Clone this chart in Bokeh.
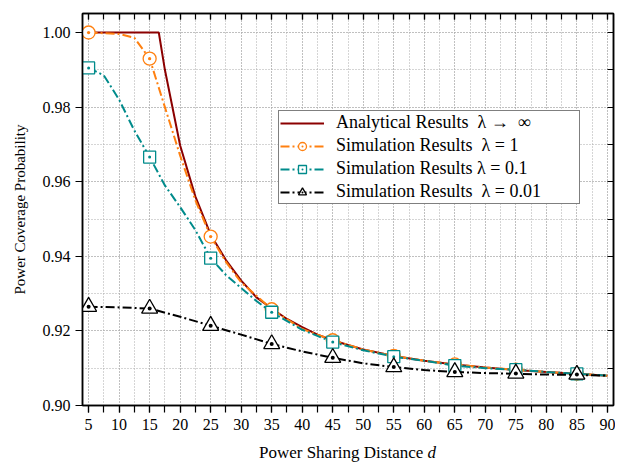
from bokeh.plotting import figure
from bokeh.layouts import column
from bokeh.models import FixedTicker, LinearAxis, Range1d, PrintfTickFormatter, Legend, LegendItem, Div
from bokeh.embed import file_html
from bokeh.resources import INLINE

FONT = "Liberation Serif"

# Analytical results (lambda -> infinity)
ana_x = [5, 16.5, 17.5, 20, 22.5, 25, 27.5, 30, 32.5, 35, 37.5, 40, 42.5, 45, 47.5, 50, 55, 60, 65, 70, 75, 80, 85, 90]
ana_y = [1.0, 1.0, 0.990, 0.9697, 0.956, 0.9458, 0.939, 0.9335, 0.929, 0.926, 0.9232, 0.921, 0.919, 0.9175,
         0.9162, 0.915, 0.9133, 0.912, 0.911, 0.9102, 0.9095, 0.909, 0.9085, 0.908]

# Simulation lambda = 1
s1_x = [5, 10, 12.5, 15, 17.5, 20, 22.5, 25, 27.5, 30, 35, 40, 45, 50, 55, 60, 65, 70, 75, 80, 85, 90]
s1_y = [1.0, 0.9996, 0.9986, 0.993, 0.980, 0.967, 0.955, 0.9453, 0.9385, 0.933, 0.9258, 0.9205, 0.9175,
        0.915, 0.9133, 0.912, 0.911, 0.9102, 0.9096, 0.909, 0.9085, 0.908]
s1_mx = [5, 15, 25, 35, 45, 55, 65, 75, 85]
s1_my = [1.0, 0.993, 0.9453, 0.9258, 0.9175, 0.9133, 0.911, 0.9096, 0.9085]

# Simulation lambda = 0.1
s2_x = [5, 7.5, 10, 12.5, 15, 17.5, 20, 22.5, 25, 27.5, 30, 32.5, 35, 40, 45, 50, 55, 60, 65, 70, 75, 80, 85, 90]
s2_y = [0.9905, 0.9885, 0.982, 0.9737, 0.9666, 0.959, 0.9532, 0.947, 0.9395, 0.935, 0.9315, 0.928, 0.925,
        0.9203, 0.917, 0.9148, 0.9131, 0.912, 0.9107, 0.910, 0.9096, 0.909, 0.9085, 0.908]
s2_mx = [5, 15, 25, 35, 45, 55, 65, 75, 85]
s2_my = [0.9905, 0.9666, 0.9395, 0.925, 0.917, 0.9131, 0.9107, 0.9096, 0.9085]

# Simulation lambda = 0.01
s3_x = [5, 10, 15, 20, 25, 30, 35, 40, 45, 50, 55, 60, 65, 70, 75, 80, 85, 90]
s3_y = [0.9265, 0.9263, 0.926, 0.9238, 0.9214, 0.919, 0.9165, 0.9145, 0.9128, 0.9113, 0.9103, 0.9095,
        0.909, 0.9087, 0.9085, 0.9083, 0.9082, 0.908]
s3_mx = [5, 15, 25, 35, 45, 55, 65, 75, 85]
s3_my = [0.9265, 0.926, 0.9214, 0.9165, 0.9128, 0.9103, 0.909, 0.9086, 0.9083]

x_major = list(range(5, 91, 5))
x_minor = [2.5 * i for i in range(2, 37)]
y_major = [0.90, 0.92, 0.94, 0.96, 0.98, 1.00]
y_minor = [0.90, 0.91, 0.92, 0.93, 0.94, 0.95, 0.96, 0.97, 0.98, 0.99, 1.00]

p = figure(width=615, height=440, x_range=Range1d(4, 91), y_range=Range1d(0.9, 1.0051),
           output_backend="svg", toolbar_location=None,
           min_border_left=82, min_border_right=2, min_border_top=13, min_border_bottom=35)
p.background_fill_color = "white"
p.border_fill_color = "white"
p.outline_line_color = "black"
p.outline_line_width = 1.5

xt = FixedTicker(ticks=x_major, minor_ticks=x_minor)
yt = FixedTicker(ticks=y_major, minor_ticks=y_minor)

p.xaxis.ticker = xt
p.yaxis.ticker = yt
p.yaxis.formatter = PrintfTickFormatter(format="%.2f")
for ax in (p.xaxis[0], p.yaxis[0]):
    ax.axis_line_color = "black"
    ax.axis_line_width = 1.5
    ax.major_tick_line_color = "black"
    ax.minor_tick_line_color = "black"
    ax.major_tick_line_width = 1.2
    ax.minor_tick_line_width = 1.2
    ax.major_tick_in = 0
    ax.minor_tick_in = 0
    ax.major_tick_out = 7
    ax.minor_tick_out = 7
    ax.major_label_text_font = FONT
    ax.major_label_text_font_size = "16px"
    ax.major_label_text_color = "black"
    ax.axis_label_text_font = FONT
    ax.axis_label_text_font_size = "15px"
    ax.axis_label_text_font_style = "normal"
    ax.axis_label_text_color = "black"
p.yaxis.minor_tick_out = 0
p.yaxis.axis_label = "Power Coverage Probability"
p.yaxis.axis_label_standoff = 12
p.yaxis.major_label_standoff = 5
p.xaxis.major_label_standoff = 6

top = LinearAxis(ticker=xt, major_label_overrides={t: "" for t in x_major},
                 major_label_text_font_size="1px", major_label_standoff=0,
                 major_tick_in=6, major_tick_out=0, minor_tick_in=6, minor_tick_out=0,
                 major_tick_line_width=1.2, minor_tick_line_width=1.2,
                 axis_line_color="black", axis_line_width=1.5)
right = LinearAxis(ticker=FixedTicker(ticks=y_minor), major_label_overrides={t: "" for t in y_minor},
                   major_label_text_font_size="1px", major_label_standoff=0,
                   major_tick_in=6, major_tick_out=0, minor_tick_in=0, minor_tick_out=0,
                   major_tick_line_width=1.2,
                   axis_line_color="black", axis_line_width=1.5)
p.add_layout(top, "above")
p.add_layout(right, "right")

p.xgrid.ticker = xt
p.ygrid.ticker = yt
for g in (p.xgrid[0], p.ygrid[0]):
    g.grid_line_color = "#aaaaaa"
    g.grid_line_dash = "1 2"
    g.grid_line_width = 1
    g.minor_grid_line_color = "#aaaaaa"
    g.minor_grid_line_dash = "1 2"
    g.minor_grid_line_width = 1

RED = "#8B0000"
ORANGE = "#FF8010"
TEAL = "#008B8B"
BLACK = "#000000"
DD = "9 3 2 3"

r0 = p.line(ana_x, ana_y, line_color=RED, line_width=2)
l1 = p.line(s1_x, s1_y, line_color=ORANGE, line_width=2, line_dash=DD)
m1 = p.scatter(s1_mx, s1_my, marker="circle_dot", size=13, line_color=ORANGE, fill_color="white", line_width=1.3)
l2 = p.line(s2_x, s2_y, line_color=TEAL, line_width=2, line_dash=DD)
m2 = p.scatter(s2_mx, s2_my, marker="square_dot", size=12, line_color=TEAL, fill_color="white", line_width=1.3)
l3 = p.line(s3_x, s3_y, line_color=BLACK, line_width=2, line_dash=DD)
m3 = p.scatter(s3_mx, s3_my, marker="triangle_dot", size=16, line_color=BLACK, fill_color="white", line_width=1.3)

legend = Legend(items=[
    LegendItem(label="Analytical Results  \u03bb \u2192  \u221e", renderers=[r0]),
    LegendItem(label="Simulation Results  \u03bb = 1", renderers=[l1, m1]),
    LegendItem(label="Simulation Results \u03bb = 0.1", renderers=[l2, m2]),
    LegendItem(label="Simulation Results  \u03bb = 0.01", renderers=[l3, m3]),
], location=(196, 201))
legend.label_text_font = FONT
legend.label_text_font_size = "18px"
legend.label_text_color = "black"
legend.border_line_color = "black"
legend.border_line_width = 1.2
legend.background_fill_alpha = 1
legend.glyph_width = 44
legend.glyph_height = 20
legend.label_height = 20
legend.label_width = 242
legend.spacing = 2
legend.padding = 1
legend.margin = 0
legend.label_standoff = 12
p.add_layout(legend)

xtitle = Div(text="Power Sharing Distance <i>d</i>", width=531, height=22, margin=(3, 0, 0, 82),
             styles={"text-align": "center", "font-family": FONT, "font-size": "17px",
                     "color": "black", "line-height": "20px", "width": "531px"})

layout = column(p, xtitle, spacing=0)
open("out.html", "w").write(file_html(layout, INLINE))
